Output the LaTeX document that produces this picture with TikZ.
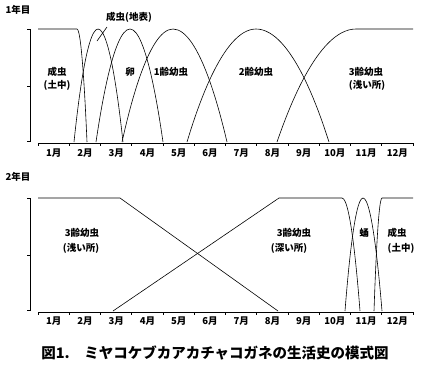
\documentclass[tikz,border=0pt]{standalone}
\usepackage{fontspec}
\newfontfamily\jp{Noto Sans CJK JP}
\tikzset{
  lbl/.style={font=\jp\bfseries\fontsize{9.5}{11}\selectfont, inner sep=0pt, align=center},
  mon/.style={font=\jp\bfseries\fontsize{9.5}{11}\selectfont, inner sep=0pt},
  ax/.style={line width=0.6pt},
  cv/.style={line width=0.6pt},
}
\begin{document}
\begin{tikzpicture}[x=1pt,y=-1pt]
\useasboundingbox (0,0) rectangle (425,368);
% ===== Year 1 =====
\node[lbl] (y1) at (18,10) {1年目};
\draw[ax] (27,29) -- (30,29) -- (30,141) -- (27,141);
\draw[ax] (27,86) -- (30,86);
\draw[ax] (38,143) -- (413,143);
\foreach \i in {0,...,12} \draw[ax] ({38+31.25*\i},143) -- ++(0,3);
\foreach \i in {1,...,12} \node[mon] (ma\i) at ({22.4+31.25*\i},153) {{\i}月};
% curves
\draw[cv] (38,29) -- (77,29) parabola (87,142);
\draw[cv] (74,142) parabola bend (98,29) (123,142);
\draw[cv] (96,142) parabola bend (130,29) (163,142);
\draw[cv] (122,142) parabola bend (173,29) (227,142);
\draw[cv] (187,142) parabola bend (256,29) (329,142);
\draw[cv] (277,142) parabola[bend at end] (356,29) -- (413,29);
% labels
\node[lbl] (a1) at (57,72) {成虫};
\node[lbl] (a1b) at (57,85) {(土中)};
\node[lbl] (a2) at (129,17) {成虫(地表)};
\coordinate (a2p) at (97,41);
\draw[cv] (a2p) -- (107,27);
\node[lbl] (egg) at (130,72) {卵};
\node[lbl] (l1) at (171,72) {1齢幼虫};
\node[lbl] (l2) at (256,72) {2齢幼虫};
\node[lbl] (l3) at (366,72) {3齢幼虫};
\node[lbl] (l3b) at (367,85) {(浅い所)};
% ===== Year 2 =====
\node[lbl] (y2) at (18,177) {2年目};
\draw[ax] (27,198) -- (30,198) -- (30,310) -- (27,310);
\draw[ax] (27,255) -- (30,255);
\draw[ax] (38,312) -- (413,312);
\foreach \i in {0,...,12} \draw[ax] ({38+31.25*\i},312) -- ++(0,3);
\foreach \i in {1,...,12} \node[mon] (mb\i) at ({22.4+31.25*\i},321) {{\i}月};
% curves
\draw[cv] (38,198) -- (120,198) -- (278,311);
\draw[cv] (113,311) -- (279,198) -- (342,198) parabola (360,311);
\draw[cv] (345,311) parabola bend (363,198) (382,311);
\draw[cv] (374,311) parabola[bend at end] (382,198) -- (413,198);
% labels
\node[lbl] (b1) at (82,233) {3齢幼虫};
\node[lbl] (b1b) at (81,248) {(浅い所)};
\node[lbl] (b2) at (294,233) {3齢幼虫};
\node[lbl] (b2b) at (289,248) {(深い所)};
\node[lbl] (pupa) at (364,233) {蛹};
\node[lbl] (b3) at (397,233) {成虫};
\node[lbl] (b3b) at (401,248) {(土中)};
% caption
\node[font=\jp\bfseries\fontsize{14.5}{16}\selectfont, inner sep=0pt] (cap) at (215,353) {図1.\hspace{1em}ミヤコケブカアカチャコガネの生活史の模式図};
\end{tikzpicture}
\end{document}
